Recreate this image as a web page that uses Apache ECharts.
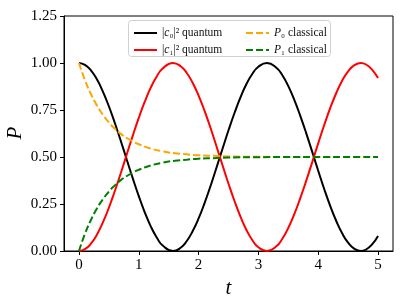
<!DOCTYPE html>
<html>
<head>
<meta charset="utf-8">
<script src="https://cdn.jsdelivr.net/npm/echarts@6/dist/echarts.min.js"></script>
<style>html,body{margin:0;padding:0;background:#fff}#c{width:406px;height:304px}</style>
</head>
<body>
<div id="c"></div>
<script>
const tQuantum = [0,0.1,0.2,0.3,0.4,0.5,0.6,0.7,0.8,0.9,1.0,1.1,1.2,1.3,1.4,1.571,1.7,1.8,1.9,2.0,2.1,2.2,2.3,2.4,2.5,2.6,2.7,2.8,2.9,3.0,3.142,3.3,3.4,3.5,3.6,3.7,3.8,3.9,4.0,4.1,4.2,4.3,4.4,4.5,4.6,4.712,4.8,4.9,5.0];
const c0Quantum = [1.000,0.990,0.961,0.913,0.848,0.770,0.681,0.585,0.485,0.386,0.292,0.206,0.131,0.072,0.029,0.000,0.017,0.052,0.105,0.173,0.255,0.346,0.444,0.544,0.642,0.734,0.817,0.888,0.943,0.980,1.000,0.975,0.935,0.877,0.804,0.719,0.626,0.527,0.427,0.330,0.240,0.161,0.094,0.044,0.013,0.000,0.008,0.035,0.080];
const c1Quantum = [0.000,0.010,0.039,0.087,0.152,0.230,0.319,0.415,0.515,0.614,0.708,0.794,0.869,0.928,0.971,1.000,0.983,0.948,0.895,0.827,0.745,0.654,0.556,0.456,0.358,0.266,0.183,0.112,0.057,0.020,0.000,0.025,0.065,0.123,0.196,0.281,0.374,0.473,0.573,0.670,0.760,0.839,0.906,0.956,0.987,1.000,0.992,0.965,0.920];
const tClassical = [0,0.1,0.2,0.3,0.4,0.5,0.6,0.7,0.8,0.9,1.0,1.2,1.4,1.6,1.8,2.0,2.25,2.5,3.0,3.5,4.0,4.5,5.0];
const p0Classical = [1.000,0.909,0.835,0.774,0.725,0.684,0.651,0.623,0.601,0.583,0.568,0.545,0.530,0.520,0.514,0.509,0.506,0.503,0.501,0.500,0.500,0.500,0.500];
const p1Classical = [0.000,0.091,0.165,0.226,0.275,0.316,0.349,0.377,0.399,0.417,0.432,0.455,0.470,0.480,0.486,0.491,0.494,0.497,0.499,0.500,0.500,0.500,0.500];
const xTicks = [0,1,2,3,4,5];
const yTicks = [0,0.25,0.5,0.75,1.0,1.25];

const pair = (xs, ys) => xs.map((x, i) => [x, ys[i]]);
const FONT = 'Liberation Serif';

const chart = echarts.init(document.getElementById('c'));
chart.setOption({
  animation: false,
  grid: { left: 64, right: 13, top: 16, bottom: 53, outerBoundsMode: 'none', containLabel: false, show: true, borderColor: '#000', borderWidth: 1, backgroundColor: 'transparent' },
  xAxis: {
    type: 'value', min: -0.25, max: 5.25,
    name: 't', nameLocation: 'middle', nameGap: 26,
    nameTextStyle: { fontFamily: FONT, fontStyle: 'italic', fontSize: 21, color: '#000' },
    axisLine: { show: true, onZero: false, lineStyle: { color: '#000', width: 1 } },
    axisTick: { show: true, inside: false, length: 4, customValues: xTicks, lineStyle: { color: '#000' } },
    axisLabel: { customValues: xTicks, margin: 7, fontFamily: FONT, fontSize: 15, color: '#000', formatter: v => String(v) },
    splitLine: { show: false }
  },
  yAxis: {
    type: 'value', min: 0, max: 1.25, interval: 0.25,
    axisLine: { show: true, onZero: false, lineStyle: { color: '#000', width: 1 } },
    axisTick: { show: true, inside: false, length: 4, customValues: yTicks, lineStyle: { color: '#000' } },
    axisLabel: { customValues: yTicks, margin: 7, fontFamily: FONT, fontSize: 15, color: '#000', formatter: v => v.toFixed(2) },
    splitLine: { show: false }
  },
  graphic: [
    {
      type: 'rect', z: 50, silent: true,
      shape: { x: 128.5, y: 20.5, width: 202, height: 36, r: 3 },
      style: { fill: 'rgba(255,255,255,0.85)', stroke: '#d0d0d0', lineWidth: 1 }
    },
    {
      type: 'text', z: 50, silent: true, x: 15, y: 133, rotation: Math.PI / 2,
      style: { text: 'P', fill: '#000', align: 'center', verticalAlign: 'middle', font: 'italic 21px "Liberation Serif"' }
    }
  ],
  legend: [
    {
      z: 60, orient: 'vertical', left: 128, top: 22, itemWidth: 23, itemHeight: 10, itemGap: 5,
      data: ['c0', 'c1'], itemStyle: { opacity: 0 },
      formatter: n => n === 'c0' ? '|{i|c}₀|² quantum' : '|{i|c}₁|² quantum',
      textStyle: { fontFamily: FONT, fontSize: 11.5, color: '#111', rich: { i: { fontFamily: FONT, fontStyle: 'italic', fontSize: 11.5 } } }
    },
    {
      z: 60, orient: 'vertical', left: 240, top: 22, itemWidth: 23, itemHeight: 10, itemGap: 5,
      data: ['P0', 'P1'], itemStyle: { opacity: 0 },
      formatter: n => n === 'P0' ? '{i|P}₀ classical' : '{i|P}₁ classical',
      textStyle: { fontFamily: FONT, fontSize: 11.5, color: '#111', rich: { i: { fontFamily: FONT, fontStyle: 'italic', fontSize: 11.5 } } }
    }
  ],
  series: [
    { name: 'c0', type: 'line', data: pair(tQuantum, c0Quantum), smooth: true, symbol: 'none', lineStyle: { color: '#000000', width: 2 }, itemStyle: { color: '#000000' } },
    { name: 'c1', type: 'line', data: pair(tQuantum, c1Quantum), smooth: true, symbol: 'none', lineStyle: { color: '#ff0000', width: 2 }, itemStyle: { color: '#ff0000' } },
    { name: 'P0', type: 'line', data: pair(tClassical, p0Classical), smooth: true, symbol: 'none', lineStyle: { color: '#ffa500', width: 2, type: [7, 3] }, itemStyle: { color: '#ffa500' } },
    { name: 'P1', type: 'line', data: pair(tClassical, p1Classical), smooth: true, symbol: 'none', lineStyle: { color: '#008000', width: 2, type: [7, 3] }, itemStyle: { color: '#008000' } }
  ]
});
</script>
</body>
</html>
